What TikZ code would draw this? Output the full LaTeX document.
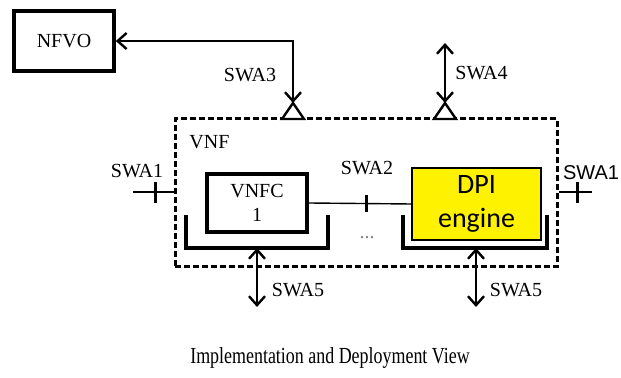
\documentclass[tikz,border=0pt]{standalone}
\usepackage{fontspec}
\setmainfont{Liberation Serif}
\newfontfamily\calibrifont{Carlito}
\newfontfamily\arialfont{Liberation Sans}
\usetikzlibrary{arrows.meta,positioning,calc}

\begin{document}
\begin{tikzpicture}[x=0.5pt,y=-0.5pt,
  font=\fontsize{10}{12}\selectfont,
  blockbox/.style={draw,line width=1.8pt,inner sep=0pt},
  lbl/.style={inner sep=1pt},
  barb/.tip={Straight Barb[length=4.5pt,width=8pt,line width=1.2pt]},
  iface/.style={line width=1.2pt,barb-barb},
  tick/.style={line width=1.5pt},
  bracket/.style={line width=1.8pt},
  refpt/.style={draw,line width=1.2pt,fill=white}]
  \useasboundingbox (0,0) rectangle (621,378);

  % Orchestrator
  \node[blockbox,minimum width=50pt,minimum height=30pt] (nfvo) at (64,41) {NFVO};

  % VNF container (dashed)
  \node[draw,line width=1.5pt,dash pattern=on 3pt off 1.5pt,
        minimum width=191pt,minimum height=74pt] (vnf) at (366,193) {};
  \node[lbl,anchor=west] (vnflbl) at (187,142) {VNF};

  % Components
  \node[blockbox,minimum width=50pt,minimum height=29pt,align=center] (vnfc) at (257,203) {VNFC\\1};
  \node[draw,fill=yellow,line width=1pt,minimum width=64.5pt,minimum height=36pt,
        align=center,font=\calibrifont\fontsize{14}{17}\selectfont] (dpi) at (476.5,204) {DPI\\engine};
  \node[lbl,text=gray] (dots) at (367,238) {...};

  % Brackets under components
  \coordinate (brl) at (257,248);
  \coordinate (brr) at (476,248);
  \draw[bracket] (186,215) |- (brl) -| (328,215);
  \draw[bracket] (403,215) |- (brr) -| (547,215);

  % Reference points on the VNF border
  \coordinate (tri3) at (293,119);
  \coordinate (tri4) at (445,119);
  \foreach \t in {tri3,tri4}
    \draw[refpt] ($(\t)+(-11,0)$) -- ($(\t)+(0,-16)$) -- ($(\t)+(11,0)$) -- cycle;

  % SWA3 to NFVO
  \coordinate (swa3knee) at (293,41);
  \draw[iface] (nfvo.east) -- (swa3knee) -- ($(tri3)+(0,-16)$);
  \node[lbl] (swa3) at (250,75) {SWA3};

  % SWA4
  \coordinate (swa4top) at (445,43);
  \draw[iface] (swa4top) -- ($(tri4)+(0,-16)$);
  \node[lbl,anchor=west] (swa4) at (453,73) {SWA4};

  % SWA2 between components
  \draw[line width=0.7pt] (vnfc.east) -- (dpi.west);
  \coordinate (swa2pt) at (366,203.5);
  \draw[tick] ($(swa2pt)+(0,-8)$) -- ($(swa2pt)+(0,9)$);
  \node[lbl] (swa2) at (367,168) {SWA2};

  % SWA1 on both sides
  \coordinate (swa1l) at (133,192);
  \coordinate (swa1r) at (592,192);
  \draw[line width=1.4pt] (swa1l) -- (vnf.west |- swa1l);
  \draw[line width=1.2pt] (vnf.east |- swa1r) -- (swa1r);
  \draw[tick] (155,182) -- (155,203);
  \draw[tick] (577,182) -- (577,203);
  \node[lbl] (swa1a) at (137,171) {SWA1};
  \node[lbl,font=\arialfont\fontsize{10}{12}\selectfont] (swa1b) at (591,173) {SWA1};

  % SWA5 below brackets
  \coordinate (swa5l) at (257,307);
  \coordinate (swa5r) at (476,307);
  \draw[iface] (brl) -- (swa5l);
  \draw[iface] (brr) -- (swa5r);
  \node[lbl] (swa5a) at (298,290) {SWA5};
  \node[lbl] (swa5b) at (516,290) {SWA5};

  % Caption
  \node[lbl,font=\fontsize{11.5}{13}\selectfont] (caption) at (330,358)
    {\scalebox{0.78}[1]{Implementation and Deployment View}};
\end{tikzpicture}
\end{document}
